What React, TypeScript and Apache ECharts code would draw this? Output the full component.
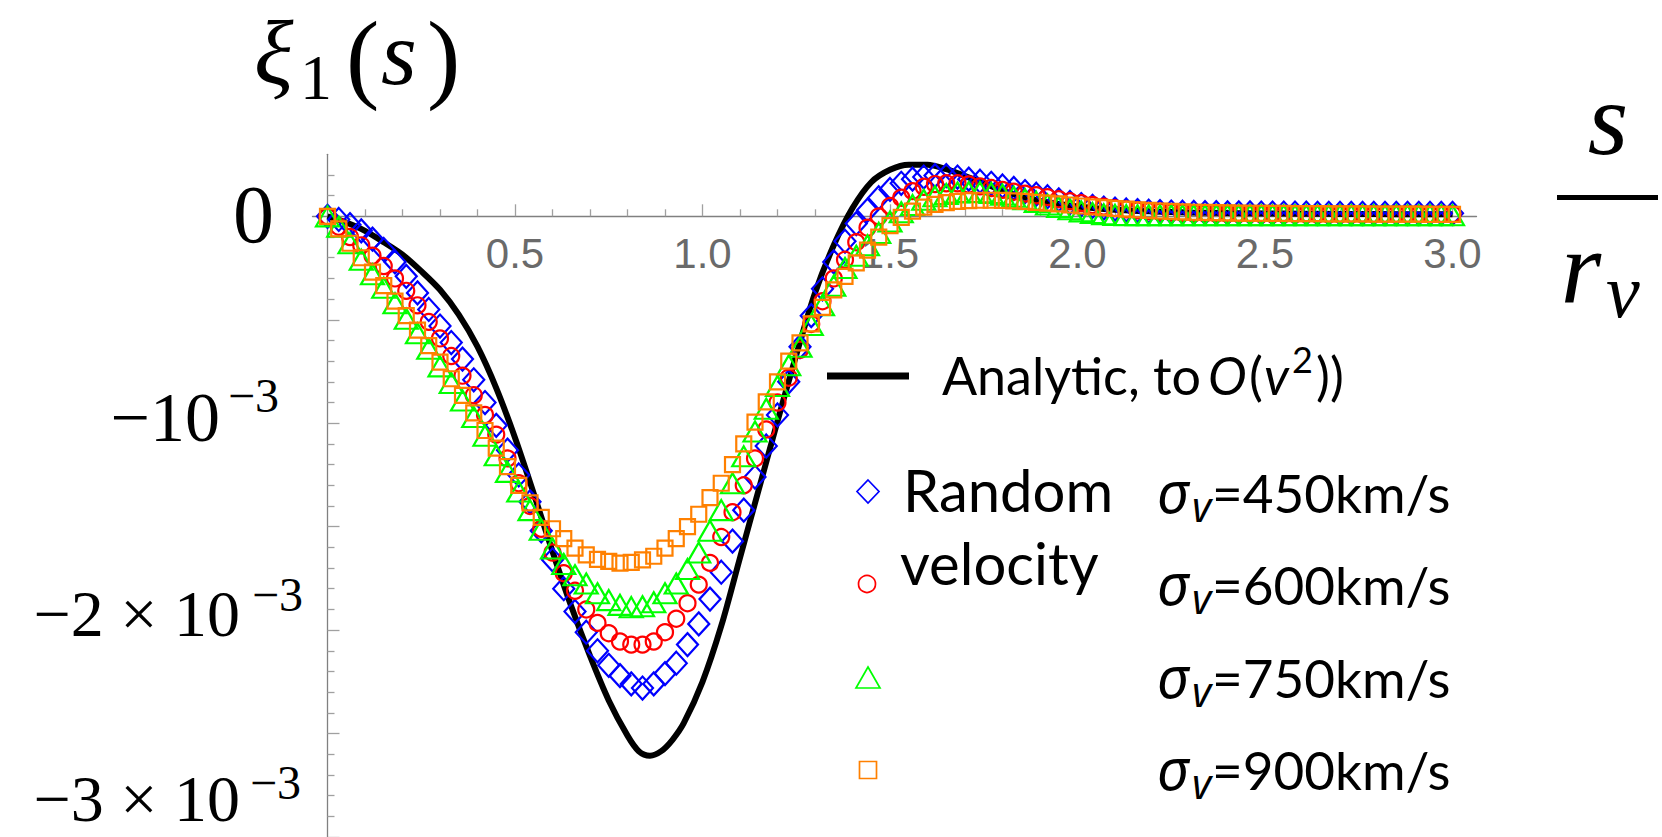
import React, { useEffect, useRef } from 'react';
import * as echarts from 'echarts';

// ---------- data (values of xi_1 in units of 1e-3) ----------
const sGrid = [0, 0.03, 0.06, 0.09, 0.12, 0.15, 0.18, 0.21, 0.24, 0.27,
  0.30, 0.33, 0.36, 0.39, 0.42, 0.45, 0.48, 0.51, 0.54, 0.57,
  0.60, 0.63, 0.66, 0.69, 0.72, 0.75, 0.78, 0.81, 0.84, 0.87,
  0.90, 0.93, 0.96, 0.99, 1.02, 1.05, 1.08, 1.11, 1.14, 1.17,
  1.20, 1.23, 1.26, 1.29, 1.32, 1.35, 1.38, 1.41, 1.44, 1.47,
  1.50, 1.53, 1.56, 1.59, 1.62, 1.65, 1.68, 1.71, 1.74, 1.77,
  1.80, 1.83, 1.86, 1.89, 1.92, 1.95, 1.98, 2.01, 2.04, 2.07,
  2.10, 2.13, 2.16, 2.19, 2.22, 2.25, 2.28, 2.31, 2.34, 2.37,
  2.40, 2.43, 2.46, 2.49, 2.52, 2.55, 2.58, 2.61, 2.64, 2.67,
  2.70, 2.73, 2.76, 2.79, 2.82, 2.85, 2.88, 2.91, 2.94, 2.97,
  3.00];

const blue450 = [0, -0.015, -0.04, -0.07, -0.11, -0.16, -0.22, -0.29, -0.37, -0.45,
  -0.53, -0.61, -0.69, -0.79, -0.90, -1.01, -1.13, -1.25, -1.38, -1.52,
  -1.66, -1.80, -1.91, -2.01, -2.10, -2.17, -2.22, -2.26, -2.28, -2.26,
  -2.21, -2.16, -2.07, -1.97, -1.85, -1.72, -1.57, -1.42, -1.26, -1.11,
  -0.96, -0.80, -0.63, -0.48, -0.35, -0.22, -0.12, -0.035, 0.03, 0.09,
  0.13, 0.16, 0.18, 0.19, 0.197, 0.197, 0.19, 0.18, 0.17, 0.16,
  0.147, 0.135, 0.12, 0.107, 0.095, 0.08, 0.067, 0.057, 0.048, 0.04,
  0.035, 0.031, 0.028, 0.025, 0.023, 0.021, 0.02, 0.019, 0.018, 0.018,
  0.017, 0.017, 0.017, 0.016, 0.016, 0.016, 0.016, 0.016, 0.015, 0.015,
  0.015, 0.015, 0.015, 0.015, 0.015, 0.015, 0.015, 0.015, 0.015, 0.015,
  0.015];

const red600 = [0, -0.05, -0.10, -0.14, -0.19, -0.24, -0.30, -0.36, -0.43, -0.51,
  -0.59, -0.675, -0.77, -0.865, -0.96, -1.055, -1.17, -1.29, -1.40, -1.51,
  -1.625, -1.725, -1.81, -1.90, -1.965, -2.015, -2.055, -2.07, -2.07, -2.055,
  -2.01, -1.945, -1.87, -1.78, -1.675, -1.55, -1.43, -1.30, -1.17, -1.03,
  -0.90, -0.78, -0.645, -0.52, -0.41, -0.30, -0.21, -0.125, -0.055, 0.0,
  0.05, 0.09, 0.122, 0.143, 0.156, 0.16, 0.16, 0.154, 0.145, 0.137,
  0.128, 0.119, 0.11, 0.102, 0.093, 0.083, 0.073, 0.064, 0.055, 0.047,
  0.04, 0.034, 0.029, 0.025, 0.022, 0.019, 0.017, 0.015, 0.014, 0.013,
  0.012, 0.012, 0.012, 0.011, 0.011, 0.011, 0.011, 0.011, 0.01, 0.01,
  0.01, 0.01, 0.01, 0.01, 0.01, 0.01, 0.01, 0.01, 0.01, 0.01,
  0.01];

const green750 = [0, -0.05, -0.13, -0.21, -0.28, -0.345, -0.42, -0.495, -0.565, -0.64,
  -0.725, -0.805, -0.89, -0.97, -1.06, -1.155, -1.235, -1.33, -1.42, -1.515,
  -1.605, -1.68, -1.735, -1.775, -1.822, -1.855, -1.878, -1.889, -1.885, -1.865,
  -1.822, -1.775, -1.705, -1.625, -1.52, -1.42, -1.29, -1.16, -1.04, -0.93,
  -0.82, -0.72, -0.63, -0.525, -0.43, -0.335, -0.25, -0.19, -0.14, -0.08,
  -0.025, 0.02, 0.055, 0.08, 0.097, 0.108, 0.115, 0.118, 0.117, 0.113,
  0.105, 0.095, 0.083, 0.07, 0.057, 0.045, 0.034, 0.024, 0.016, 0.01,
  0.007, 0.006, 0.005, 0.005, 0.005, 0.005, 0.005, 0.005, 0.005, 0.005,
  0.005, 0.005, 0.005, 0.005, 0.005, 0.005, 0.005, 0.005, 0.005, 0.005,
  0.005, 0.005, 0.005, 0.005, 0.005, 0.005, 0.005, 0.005, 0.005, 0.005,
  0.005];

const orange900 = [0, -0.06, -0.13, -0.20, -0.27, -0.335, -0.41, -0.48, -0.55, -0.625,
  -0.705, -0.785, -0.865, -0.95, -1.035, -1.12, -1.21, -1.30, -1.385, -1.455,
  -1.51, -1.558, -1.604, -1.636, -1.658, -1.668, -1.676, -1.673, -1.66, -1.643,
  -1.604, -1.558, -1.50, -1.44, -1.36, -1.29, -1.20, -1.10, -0.995, -0.897,
  -0.80, -0.70, -0.612, -0.52, -0.44, -0.355, -0.29, -0.225, -0.163, -0.10,
  -0.045, -0.005, 0.025, 0.045, 0.058, 0.066, 0.072, 0.076, 0.078, 0.078,
  0.077, 0.075, 0.072, 0.068, 0.064, 0.06, 0.055, 0.05, 0.046, 0.042,
  0.038, 0.035, 0.032, 0.029, 0.026, 0.024, 0.022, 0.02, 0.019, 0.018,
  0.017, 0.016, 0.015, 0.015, 0.014, 0.014, 0.013, 0.013, 0.013, 0.012,
  0.012, 0.012, 0.012, 0.011, 0.011, 0.011, 0.011, 0.011, 0.01, 0.01,
  0.01];

const analyticS = [0, 0.05, 0.10, 0.15, 0.20, 0.25, 0.30, 0.35, 0.40, 0.45,
  0.50, 0.55, 0.60, 0.65, 0.70, 0.75, 0.80, 0.83, 0.86, 0.89, 0.92, 0.95,
  1.00, 1.05, 1.10, 1.15, 1.20, 1.25, 1.30, 1.35, 1.40, 1.45,
  1.50, 1.55, 1.60, 1.65, 1.70, 1.75, 1.80, 1.85, 1.90, 1.95,
  2.00, 2.10, 2.20, 2.30, 2.40, 2.50, 2.60, 2.70, 2.80, 2.90, 3.00];
const analyticV = [0, -0.03, -0.07, -0.125, -0.185, -0.265, -0.355, -0.475, -0.63, -0.83,
  -1.07, -1.34, -1.62, -1.885, -2.125, -2.34, -2.51, -2.585, -2.607, -2.585, -2.53, -2.45,
  -2.25, -1.98, -1.65, -1.32, -0.99, -0.67, -0.37, -0.14, 0.04, 0.165,
  0.225, 0.25, 0.25, 0.228, 0.195, 0.16, 0.125, 0.095, 0.075, 0.06,
  0.048, 0.032, 0.024, 0.019, 0.016, 0.014, 0.013, 0.012, 0.011, 0.01, 0.01];

const xMajorTicks = [0.5, 1.0, 1.5, 2.0, 2.5, 3.0];
const xMinorTicks = [0.1, 0.2, 0.3, 0.4, 0.6, 0.7, 0.8, 0.9, 1.1, 1.2, 1.3, 1.4, 1.6, 1.7, 1.8, 1.9,
  2.1, 2.2, 2.3, 2.4, 2.6, 2.7, 2.8, 2.9];
const yMajorTicks = [-3, -2.5, -2, -1.5, -1, -0.5];
const yMinorTicks = [-2.9, -2.8, -2.7, -2.6, -2.4, -2.3, -2.2, -2.1, -1.9, -1.8, -1.7, -1.6,
  -1.4, -1.3, -1.2, -1.1, -0.9, -0.8, -0.7, -0.6, -0.4, -0.3, -0.2, -0.1, 0.1, 0.2];

const yTickMain = ['0', '\u221210', '\u22122 \u00d7 10', '\u22123 \u00d7 10'];
const yTickSup = ['', '\u22123', '\u22123', '\u22123'];
const sigmaLabels = ['=450km/s', '=600km/s', '=750km/s', '=900km/s'];
const seriesNames = ['\u03c3v=450km/s', '\u03c3v=600km/s', '\u03c3v=750km/s', '\u03c3v=900km/s'];

// ---------- styling ----------
const SERIF = '"Liberation Serif", serif';
const LATO = 'Lato, "Noto Sans", sans-serif';
const NOTO = '"Noto Sans", sans-serif';
const C_LATO = 0.387;
const C_NOTO = 0.388;

function txt(text: string, x: number, yMid: number, size: number, family: string,
  opts: { italic?: boolean; align?: string; fill?: string } = {}) {
  return {
    type: 'text',
    x,
    y: yMid,
    silent: true,
    z: 10,
    style: {
      text,
      font: `${opts.italic ? 'italic ' : ''}${size}px ${family}`,
      fill: opts.fill || '#000',
      textAlign: opts.align || 'left',
      textVerticalAlign: 'middle',
    },
  };
}

function buildGraphic() {
  const g: any[] = [];
  // y tick labels
  const mainRight = [274, 220, 240, 240];
  const mainMid = [214, 417, 613, 798];
  const mainSize = [82, 70, 66, 66];
  const supLeft = [0, 228, 252, 250];
  const supMid = [0, 395, 594, 782];
  yTickMain.forEach((t, i) => {
    g.push(txt(t, mainRight[i], mainMid[i], mainSize[i], SERIF, { align: 'right' }));
    if (yTickSup[i]) g.push(txt(yTickSup[i], supLeft[i], supMid[i], 48, SERIF));
  });
  // y axis title  xi_1(s)
  g.push(txt('\u03be', 254, 53, 92, SERIF, { italic: true }));
  g.push(txt('1', 300, 77, 64, SERIF));
  g.push(txt('(', 346, 56, 100, SERIF));
  g.push(txt('s', 381, 53, 92, SERIF, { italic: true }));
  g.push(txt(')', 427, 56, 100, SERIF));
  // x axis title  s / r_v
  g.push(txt('s', 1608, 118, 104, SERIF, { italic: true, align: 'center' }));
  g.push({ type: 'rect', silent: true, z: 10, shape: { x: 1557, y: 195, width: 101, height: 5 }, style: { fill: '#000' } });
  g.push(txt('r', 1581, 267, 104, SERIF, { italic: true, align: 'center' }));
  g.push(txt('v', 1606, 291, 76, SERIF, { italic: true }));

  // legend: analytic line
  g.push({ type: 'line', silent: true, z: 10, shape: { x1: 827, y1: 376, x2: 909, y2: 376 }, style: { stroke: '#000', lineWidth: 7 } });
  const bl = 395;
  g.push(txt('Analytic, to', 942, bl - C_LATO * 52, 52, LATO));
  g.push(txt('O', 1208, bl - C_LATO * 52, 52, LATO, { italic: true }));
  g.push(txt('(', 1249, bl - C_LATO * 52, 52, LATO));
  g.push(txt('v', 1264, bl - C_LATO * 52, 52, LATO, { italic: true }));
  g.push(txt('2', 1292, 373 - C_LATO * 36, 36, LATO));
  g.push(txt('))', 1316, bl - C_LATO * 52, 52, LATO));

  // legend markers
  g.push({ type: 'polygon', silent: true, z: 10, shape: { points: [[868, 480], [879, 491.5], [868, 503], [857, 491.5]] }, style: { fill: 'none', stroke: '#0000ff', lineWidth: 1.7 } });
  g.push({ type: 'circle', silent: true, z: 10, shape: { cx: 867, cy: 584, r: 8.5 }, style: { fill: 'none', stroke: '#ff0000', lineWidth: 1.7 } });
  g.push({ type: 'polygon', silent: true, z: 10, shape: { points: [[868, 667], [880, 688], [856, 688]] }, style: { fill: 'none', stroke: '#00ff00', lineWidth: 1.7 } });
  g.push({ type: 'rect', silent: true, z: 10, shape: { x: 859.5, y: 761.5, width: 17, height: 17 }, style: { fill: 'none', stroke: '#ff8000', lineWidth: 1.7 } });

  g.push(txt('Random', 903, 512 - C_LATO * 58, 58, LATO));
  g.push(txt('velocity', 900, 585 - C_LATO * 58, 58, LATO));

  const baselines = [513, 605, 698, 790];
  sigmaLabels.forEach((t, i) => {
    const b = baselines[i];
    g.push(txt('\u03c3', 1157, b - C_NOTO * 56, 56, NOTO, { italic: true }));
    g.push(txt('v', 1192, b + 9 - C_NOTO * 41, 41, NOTO, { italic: true }));
    g.push(txt(t, 1212, b - C_LATO * 53, 53, LATO));
  });
  return g;
}

const AXIS_GREY = '#808080';
const TICK_GREY = '#a0a0a0';
const X_AXIS_OFFSET = -(837 - 216.3);
const Y_AXIS_OFFSET = -15;

function makeOption() {
  const xBase = { type: 'value', min: -0.04, max: 3.064, position: 'bottom', offset: X_AXIS_OFFSET, splitLine: { show: false }, gridIndex: 0 };
  const yBase = { type: 'value', min: -3, max: 0.3, position: 'left', offset: Y_AXIS_OFFSET, splitLine: { show: false }, gridIndex: 0 };
  const markerSeries = [
    { data: blue450, symbol: 'diamond', size: [21, 23], color: '#0000ff' },
    { data: red600, symbol: 'circle', size: 16, color: '#ff0000' },
    { data: green750, symbol: 'triangle', size: [23, 20], color: '#00ff00' },
    { data: orange900, symbol: 'rect', size: 15, color: '#ff8000' },
  ].map((m, i) => ({
    type: 'scatter',
    name: seriesNames[i],
    xAxisIndex: 0,
    yAxisIndex: 0,
    data: sGrid.map((s, k) => [s, m.data[k]]),
    symbol: m.symbol,
    symbolSize: m.size,
    silent: true,
    z: 3 + i,
    itemStyle: { color: 'rgba(0,0,0,0)', borderColor: m.color, borderWidth: 2.2, opacity: 1 },
  }));

  return {
    animation: false,
    backgroundColor: '#ffffff',
    grid: { left: 312.5, right: 185.5, top: 154.3, bottom: 0, containLabel: false },
    xAxis: [
      {
        ...xBase,
        axisLine: { show: true, onZero: false, lineStyle: { color: AXIS_GREY, width: 1.3 } },
        axisTick: { show: true, inside: true, length: 12, customValues: xMajorTicks, lineStyle: { color: TICK_GREY, width: 1.3 } },
        axisLabel: {
          show: true, customValues: xMajorTicks, margin: 16, color: '#6a6a6a', fontSize: 42,
          fontFamily: '"Liberation Sans", Arial, sans-serif',
          formatter: (v: number) => v.toFixed(1),
        },
      },
      {
        ...xBase,
        axisLine: { show: false, onZero: false },
        axisTick: { show: true, inside: true, length: 7, customValues: xMinorTicks, lineStyle: { color: TICK_GREY, width: 1.3 } },
        axisLabel: { show: false },
      },
    ],
    yAxis: [
      {
        ...yBase,
        axisLine: { show: true, onZero: false, lineStyle: { color: AXIS_GREY, width: 1.3 } },
        axisTick: { show: true, inside: true, length: 12, customValues: yMajorTicks, lineStyle: { color: TICK_GREY, width: 1.3 } },
        axisLabel: { show: false },
      },
      {
        ...yBase,
        axisLine: { show: false, onZero: false },
        axisTick: { show: true, inside: true, length: 7, customValues: yMinorTicks, lineStyle: { color: TICK_GREY, width: 1.3 } },
        axisLabel: { show: false },
      },
    ],
    series: [
      {
        type: 'line',
        name: 'Analytic, to O(v\u00b2))',
        xAxisIndex: 0,
        yAxisIndex: 0,
        data: analyticS.map((s, k) => [s, analyticV[k]]),
        smooth: 0.3,
        showSymbol: false,
        symbol: 'none',
        silent: true,
        z: 2,
        lineStyle: { color: '#000000', width: 6 },
      },
      ...markerSeries,
    ],
    graphic: { elements: buildGraphic() },
  };
}

export default function App() {
  const ref = useRef<HTMLDivElement>(null);
  useEffect(() => {
    if (!ref.current) return;
    const chart = echarts.init(ref.current, null, { renderer: 'svg', width: 1662, height: 837 });
    chart.setOption(makeOption() as any);
    return () => chart.dispose();
  }, []);
  return (
    <div
      ref={ref}
      style={{ position: 'fixed', left: 0, top: 0, width: 1662, height: 837, background: '#ffffff' }}
    />
  );
}
